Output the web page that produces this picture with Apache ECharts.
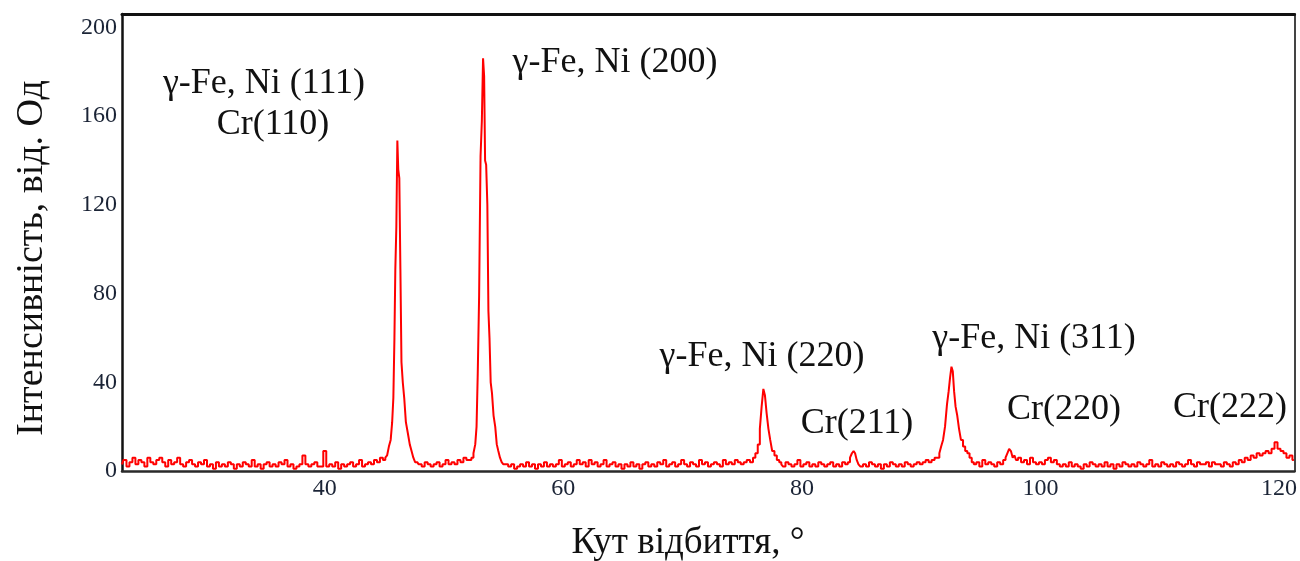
<!DOCTYPE html>
<html>
<head>
<meta charset="utf-8">
<script src="https://cdn.jsdelivr.net/npm/echarts@6/dist/echarts.min.js"></script>
<style>
html,body{margin:0;padding:0;background:#fff;}
#chart{width:1300px;height:561px;}
</style>
</head>
<body>
<div id="chart"></div>
<script>
// ---------- DATA ----------
const xTicks = [40, 60, 80, 100, 120];
const yTicks = [0, 40, 80, 120, 160, 200];
const xTitle = 'Кут відбиття, °';
const yTitle = 'Інтенсивність, від. Од';
const peakLabels = ['γ-Fe, Ni (111)', 'Cr(110)', 'γ-Fe, Ni (200)', 'γ-Fe, Ni (220)', 'Cr(211)', 'γ-Fe, Ni (311)', 'Cr(220)', 'Cr(222)'];

// background segments sampled every 0.25° (start angle, values)
const bgAStart = 23.0;
const bgA = [3,5,2,4,6,3,5,4,2,6, 4,3,5,6,4,2,5,3,4,6, 3,2,4,5,3,2,4,3,5,2, 3,1,4,2,3,2,4,3,1,3,
             2,4,3,2,5,2,3,1,3,4, 2,3,2,4,3,5,2,3,1,2, 3,7,3,2,3,4,2,2,9,2, 3,2,4,1,3,2,3,4,2,3,
             5,2,3,4,3,5,4,6,5];
const p111Angle = [45.15,45.3,45.45,45.6,45.7,45.8,45.88,45.95,46.05,46.12,46.2,46.3,46.38,46.48,46.6,46.72,46.88,47.05,47.2,47.35,47.5,47.65];
const p111Value = [6,7,11,14,22,33,60,91,110,149,136,132,91,49,40,33,22,17,12,9,6,4];
const bgBStart = 47.75;
const bgB = [4,3,2,4,3,2,3,4,2,3,5,3,4,3,5,4,6,5];
const p200Angle = [52.2,52.38,52.55,52.68,52.77,52.88,53.0,53.12,53.22,53.32,53.4,53.48,53.58,53.68,53.76,53.86,53.96,54.08,54.22,54.36,54.48,54.62,54.76,54.9,55.05];
const p200Value = [5,6,8,12,20,44,79,142,158,186,178,140,138,120,72,60,40,35,25,20,12,9,6,4,3];
const bgCStart = 55.25;
const bgC = [3,2,3,1,2,3,2,4,2,3, 1,3,2,4,2,3,2,3,5,2, 3,4,2,3,5,3,4,2,5,3, 4,2,3,5,2,3,4,2,3,1,
             3,2,4,2,3,1,3,4,2,3, 2,4,3,5,2,3,4,2,3,5, 3,2,4,3,2,5,3,4,2,3, 4,3,2,5,3,4,3,5,4,3,
             4,5];
const p220Angle = [75.8,76.0,76.2,76.4,76.55,76.7,76.84,76.97,77.12,77.27,77.42,77.6,77.8,78.0,78.2,78.35];
const p220Value = [4,6,8,12,19,29,37,34,26,19,14,9,7,5,4,3];
const bgDStart = 78.5;
const bgD = [2,4,3,2,3,5,2,3,4,2, 3,2,4,3,2,3,4,2,3,2, 4,3];
const cr211Angle = [83.95,84.12,84.27,84.4,84.52,84.67,84.82];
const cr211Value = [4,6,8,9,8,5,3];
const bgEStart = 85.0;
const bgE = [2,3,2,4,3,2,3,1,3,2, 4,3,2,3,2,4,3,2,3,4, 3,4,5,4,5,6];
const p311Angle = [91.45,91.6,91.75,91.92,92.08,92.25,92.36,92.48,92.6,92.7,92.82,92.95,93.1,93.25,93.42,93.6,93.78,93.96,94.15,94.33];
const p311Value = [6,8,11,14,20,30,36,42,47,45,36,29,25,19,14,11,9,8,6,4];
const bgFStart = 94.5;
const bgF = [3,4,2,5,3,4,3,2,4,3,5];
const cr220Angle = [97.15,97.3,97.45,97.6,97.75,97.9];
const cr220Value = [6,8,10,9,6,7];
const bgGStart = 98.0;
const bgG = [5,6,4,5,3,6,4,3,4,3, 5,6,4,5,3,2,3,2,4,2, 3,2,1,3,2,4,3,2,3,2, 4,2,3,1,3,2,4,3,2,3,
             2,4,3,2,3,5,2,3,2,4, 3,2,3,2,4,3,2,3,5,3, 2,4,3,3,4,2,4,3];
const cr222Start = 115.0;
const cr222 = [3,2,4,3,2,4,3,5,4,6,5,7,6,8,7,8,9,8,10,13,10,9,8,6,7,5];
const sampleStep = 0.25;

// ---------- build series ----------
function grid(start, vals){ return vals.map((v,i)=>[+(start + i*sampleStep).toFixed(3), v]); }
function pairs(a, v){ return a.map((x,i)=>[x, v[i]]); }
const pattern = [].concat(
  grid(bgAStart, bgA), pairs(p111Angle, p111Value),
  grid(bgBStart, bgB), pairs(p200Angle, p200Value),
  grid(bgCStart, bgC), pairs(p220Angle, p220Value),
  grid(bgDStart, bgD), pairs(cr211Angle, cr211Value),
  grid(bgEStart, bgE), pairs(p311Angle, p311Value),
  grid(bgFStart, bgF), pairs(cr220Angle, cr220Value),
  grid(bgGStart, bgG), grid(cr222Start, cr222)
);

// ---------- layout ----------
const SERIF = '"Liberation Serif", "Times New Roman", serif';
const labelPos = [[264,84],[273,125],[615,63],[762,357],[857,424],[1034,339],[1064,410],[1230,408]];
const X_MIN = 23, X_MAX = 121.3, Y_MIN = 0, Y_MAX = 206;

const chart = echarts.init(document.getElementById('chart'), null, {renderer:'canvas'});
chart.setOption({
  animation: false,
  backgroundColor: '#ffffff',
  grid: { left: 122, right: 2, top: 14, bottom: 90, show: false },
  xAxis: [{
    type: 'value', min: X_MIN, max: X_MAX, position: 'bottom',
    axisLine: { show: true, lineStyle: { color: '#2a2a2a', width: 2.5 } },
    axisTick: { show: false }, splitLine: { show: false },
    axisLabel: { customValues: xTicks, fontFamily: SERIF, fontSize: 24, color: '#1b2436', margin: 6 }
  },{
    type: 'value', min: X_MIN, max: X_MAX, position: 'top',
    axisLine: { show: true, onZero: false, lineStyle: { color: '#111', width: 3 } },
    axisTick: { show: false }, splitLine: { show: false }, axisLabel: { show: false }
  }],
  yAxis: [{
    type: 'value', min: Y_MIN, max: Y_MAX, position: 'left',
    axisLine: { show: true, lineStyle: { color: '#111', width: 2.5 } },
    axisTick: { show: false }, splitLine: { show: false },
    axisLabel: { customValues: yTicks, fontFamily: SERIF, fontSize: 24, color: '#1b2436', margin: 5, padding: [0,0,10,0] }
  },{
    type: 'value', min: Y_MIN, max: Y_MAX, position: 'right',
    axisLine: { show: true, onZero: false, lineStyle: { color: '#444', width: 2 } },
    axisTick: { show: false }, splitLine: { show: false }, axisLabel: { show: false }
  }],
  series: [{
    type: 'line', data: pattern, xAxisIndex: 0, yAxisIndex: 0,
    showSymbol: false, symbol: 'none', step: 'middle',
    lineStyle: { color: '#ff0000', width: 2 },
    clip: true
  }],
  graphic: [].concat(
    peakLabels.map((t,i)=>({
      type: 'text', x: labelPos[i][0], y: labelPos[i][1],
      style: { text: t, fontFamily: SERIF, fontSize: 36, fill: '#111', align: 'center', verticalAlign: 'middle' }
    })),
    [{
      type: 'text', x: 688, y: 543,
      style: { text: xTitle, fontFamily: SERIF, fontSize: 37, fill: '#111', align: 'center', verticalAlign: 'middle' }
    },{
      type: 'text', x: 32, y: 258, rotation: Math.PI/2,
      style: { text: yTitle, fontFamily: SERIF, fontSize: 38, fill: '#111', align: 'center', verticalAlign: 'middle' }
    }]
  )
});
</script>
</body>
</html>
